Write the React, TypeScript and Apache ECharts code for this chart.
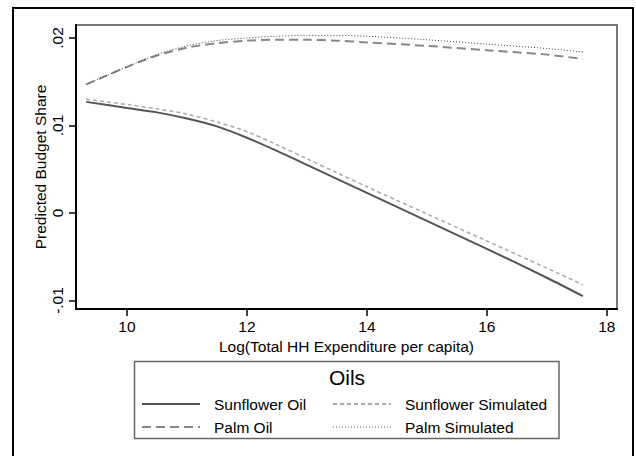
import React, { useEffect, useRef } from "react";
import * as echarts from "echarts";

const logExp = [9.32, 10, 10.5, 11, 11.5, 12, 12.5, 13, 13.5, 14, 15, 16, 17, 17.6];
const sunflowerOil = [0.0127, 0.012, 0.0115, 0.0108, 0.0099, 0.0086, 0.0071, 0.0055, 0.0039, 0.0023, -0.0009, -0.0041, -0.0074, -0.0095];
const sunflowerSim = [0.013, 0.0124, 0.0119, 0.0113, 0.0104, 0.0093, 0.0078, 0.0062, 0.0046, 0.003, -0.0001, -0.0032, -0.0063, -0.0082];
const palmOil = [0.0147, 0.0167, 0.018, 0.0189, 0.0194, 0.0197, 0.0198, 0.0198, 0.0197, 0.0195, 0.0191, 0.0186, 0.0181, 0.0176];
const palmSim = [0.0147, 0.0167, 0.0181, 0.0191, 0.0197, 0.02, 0.0202, 0.0203, 0.0203, 0.0202, 0.0198, 0.0193, 0.0188, 0.0184];

const xTicks = [10, 12, 14, 16, 18];
const yTicks = [-0.01, 0, 0.01, 0.02];
const yTickLabels = ["-.01", "0", ".01", ".02"];

const FONT = "Liberation Sans, Arial, sans-serif";

const pairs = (ys: number[]) => logExp.map((x, i) => [x, ys[i]]);

export default function App() {
  const ref = useRef<HTMLDivElement>(null);
  useEffect(() => {
    document.body.style.margin = "0";
    const chart = echarts.init(ref.current!, null, { renderer: "svg" });
    const mk = (name: string, ys: number[], color: string, width: number, type: any) => ({
      name,
      type: "line",
      data: pairs(ys),
      smooth: 0.3,
      symbol: "none",
      lineStyle: { color, width, type },
      itemStyle: { color },
    });
    const legendCommon = {
      orient: "vertical",
      top: 391,
      itemWidth: 58,
      itemHeight: 14,
      itemGap: 7,
      itemStyle: { opacity: 0 },
      textStyle: { fontSize: 15.5, color: "#000", fontFamily: FONT, padding: [0, 0, 0, 9] },
    };
    chart.setOption({
      animation: false,
      backgroundColor: "#fff",
      textStyle: { fontFamily: FONT },
      grid: {
        left: 76,
        right: 19,
        top: 25,
        bottom: 147,
        show: true,
        borderColor: "#777",
        borderWidth: 2,
        backgroundColor: "#fff",
      },
      xAxis: {
        type: "value",
        min: 9.15,
        max: 18.17,
        name: "Log(Total HH Expenditure per capita)",
        nameLocation: "middle",
        nameGap: 25,
        nameTextStyle: { fontSize: 15.5, color: "#000", fontFamily: FONT },
        axisLine: { show: true, onZero: false, lineStyle: { color: "#000", width: 2 } },
        axisTick: { show: true, length: 7, customValues: xTicks, lineStyle: { color: "#000", width: 1.5 } },
        axisLabel: { customValues: xTicks, fontSize: 15.5, color: "#000", margin: 9, fontFamily: FONT },
        splitLine: { show: false },
      },
      yAxis: {
        type: "value",
        min: -0.010971,
        max: 0.021486,
        name: "Predicted Budget Share",
        nameLocation: "middle",
        nameRotate: 90,
        nameGap: 28,
        nameMoveOverlap: false,
        nameTextStyle: { fontSize: 15.5, color: "#000", fontFamily: FONT },
        axisLine: { show: true, onZero: false, lineStyle: { color: "#000", width: 2 } },
        axisTick: { show: true, length: 7, customValues: yTicks, lineStyle: { color: "#000", width: 1.5 } },
        axisLabel: {
          customValues: yTicks,
          rotate: 90,
          fontSize: 15.5,
          color: "#000",
          margin: 11,
          fontFamily: FONT,
          formatter: (v: number) => {
            const i = yTicks.findIndex((t) => Math.abs(t - v) < 1e-9);
            return i >= 0 ? yTickLabels[i] : "";
          },
        },
        splitLine: { show: false },
      },
      legend: [
        { ...legendCommon, left: 136, data: ["Sunflower Oil", "Palm Oil"] },
        {
          ...legendCommon,
          left: 327,
          data: ["Sunflower Simulated", "Palm Simulated"],
          lineStyle: { color: "#aaa" },
        },
      ],
      graphic: [
        {
          type: "rect",
          silent: true,
          shape: { x: 13, y: 8, width: 620, height: 460 },
          style: { fill: "none", stroke: "#000", lineWidth: 2 },
          z: -10,
        },
        {
          type: "rect",
          silent: true,
          shape: { x: 134.5, y: 361.5, width: 424.5, height: 77 },
          style: { fill: "none", stroke: "#666", lineWidth: 1.5 },
        },
        {
          type: "text",
          silent: true,
          x: 347,
          y: 377,
          style: {
            text: "Oils",
            font: `21px ${FONT}`,
            fill: "#000",
            textAlign: "center",
            textVerticalAlign: "middle",
          },
        },
      ],
      series: [
        mk("Sunflower Oil", sunflowerOil, "#555", 2, "solid"),
        mk("Palm Oil", palmOil, "#888", 2, [9, 5]),
        mk("Sunflower Simulated", sunflowerSim, "#aaa", 1.5, [4, 3]),
        mk("Palm Simulated", palmSim, "#444", 1, [1, 2]),
      ],
    });
    return () => chart.dispose();
  }, []);
  return <div ref={ref} style={{ width: 636, height: 456 }} />;
}
